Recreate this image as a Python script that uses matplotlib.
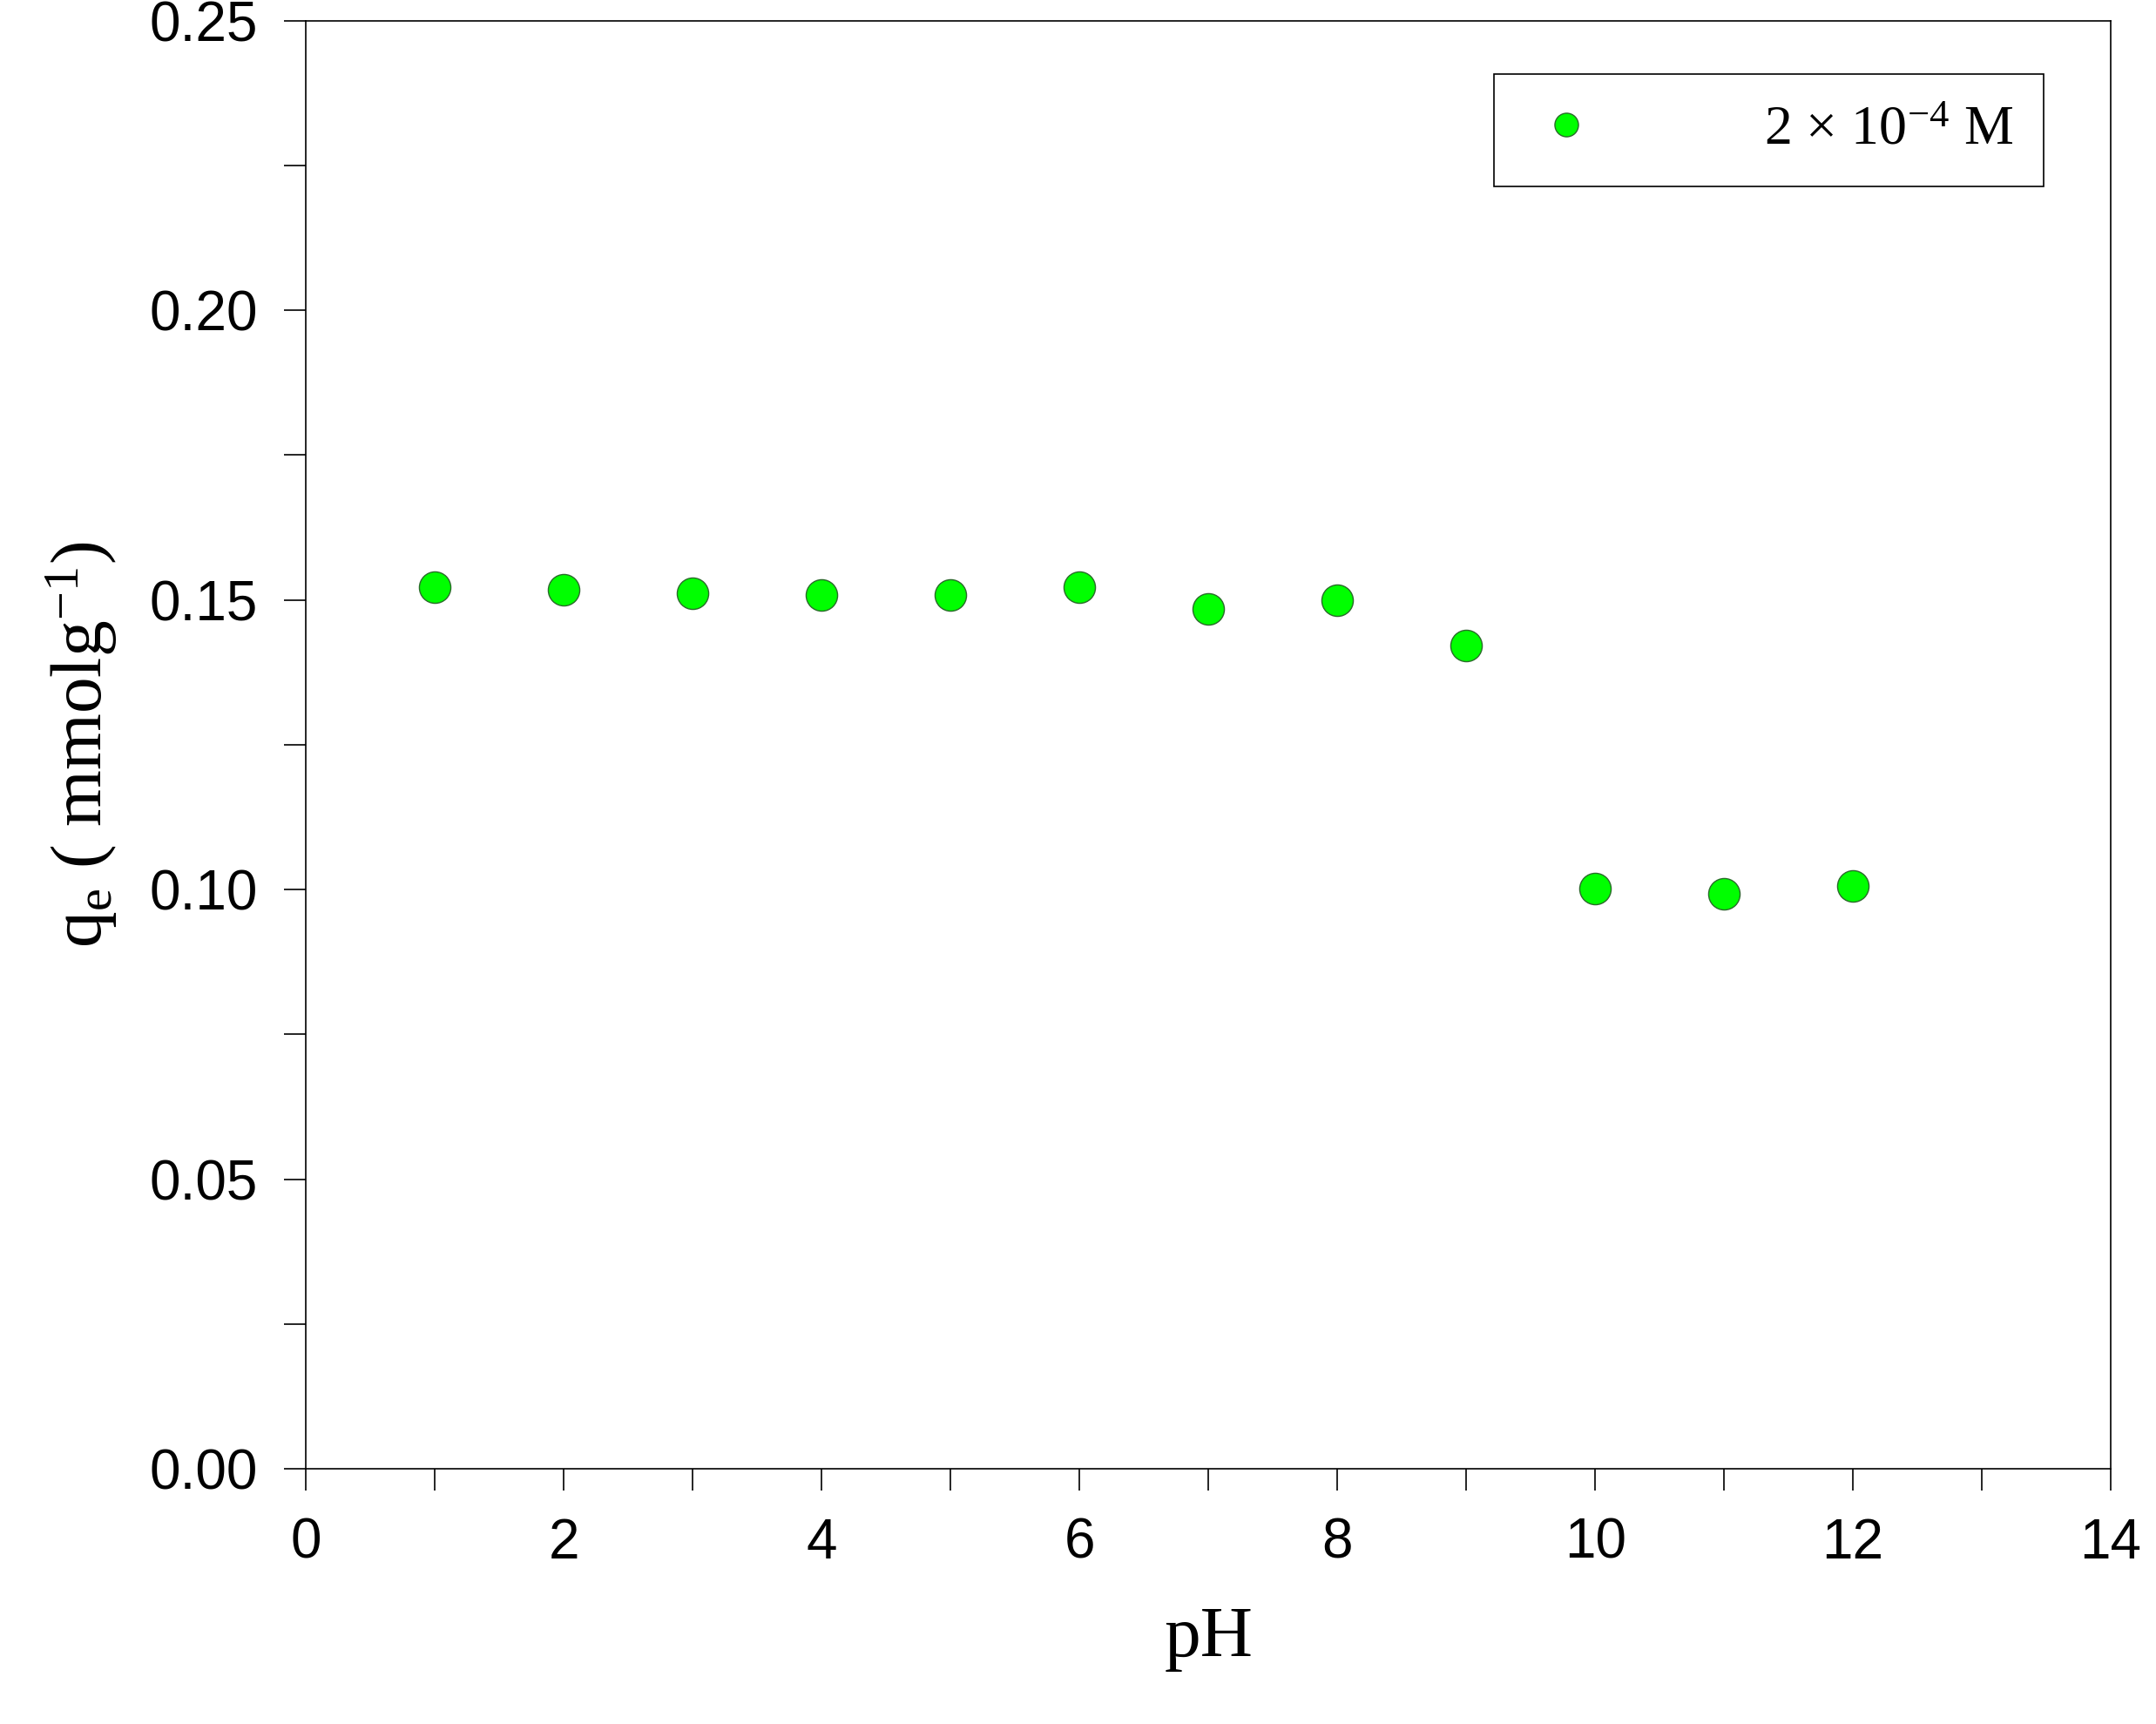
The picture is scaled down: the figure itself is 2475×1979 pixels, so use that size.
import matplotlib
matplotlib.use("Agg")
import matplotlib.pyplot as plt
from matplotlib.ticker import MultipleLocator

ph = [1, 2, 3, 4, 5, 6, 7, 8, 9, 10, 11, 12]
qe = [0.1522, 0.1517, 0.1512, 0.1508, 0.1508, 0.1522, 0.1484, 0.1500, 0.1422, 0.1002, 0.0992, 0.1007]
series_label = r"2 $\times$ 10$^{-4}$ M"

plt.rcParams["mathtext.fontset"] = "custom"
plt.rcParams["mathtext.rm"] = "Liberation Serif"
plt.rcParams["mathtext.it"] = "Liberation Serif"
plt.rcParams["mathtext.default"] = "rm"

fig = plt.figure(figsize=(24.75, 19.79), dpi=100)
ax = fig.add_axes([0.142, 0.148, 0.837, 0.840])
ax.plot(ph, qe, "o", ms=26, mfc="#00ff00", mec="#2a6a2a", mew=1.0, label=series_label)
ax.set_xlim(0, 14)
ax.set_ylim(0, 0.25)
ax.xaxis.set_major_locator(MultipleLocator(2))
ax.xaxis.set_minor_locator(MultipleLocator(1))
ax.yaxis.set_major_locator(MultipleLocator(0.05))
ax.yaxis.set_minor_locator(MultipleLocator(0.025))
ax.yaxis.set_major_formatter(matplotlib.ticker.FormatStrFormatter("%.2f"))
ax.tick_params(which="both", direction="out", top=False, right=False, width=1.2)
ax.tick_params(which="major", length=18, labelsize=46, pad=22)
ax.tick_params(which="minor", length=18)
for lab in ax.get_xticklabels() + ax.get_yticklabels():
    lab.set_fontfamily("Liberation Sans")
for s in ax.spines.values():
    s.set_linewidth(1.2)
ax.set_xlabel("pH", fontfamily="Liberation Serif", fontsize=60, labelpad=30)
ax.set_ylabel(r"q$_{e}$ ( mmolg$^{-1}$)", fontfamily="Liberation Serif", fontsize=60, labelpad=25)
leg = ax.legend(loc="upper right", bbox_to_anchor=(0.963, 0.963), prop={"family": "Liberation Serif", "size": 46},
                markerscale=0.75, fancybox=False, edgecolor="black", framealpha=1,
                borderpad=0.55, handletextpad=2.8, handlelength=1.5, borderaxespad=0)
leg.get_frame().set_linewidth(1.2)
fig.savefig("out.png", dpi=100)
